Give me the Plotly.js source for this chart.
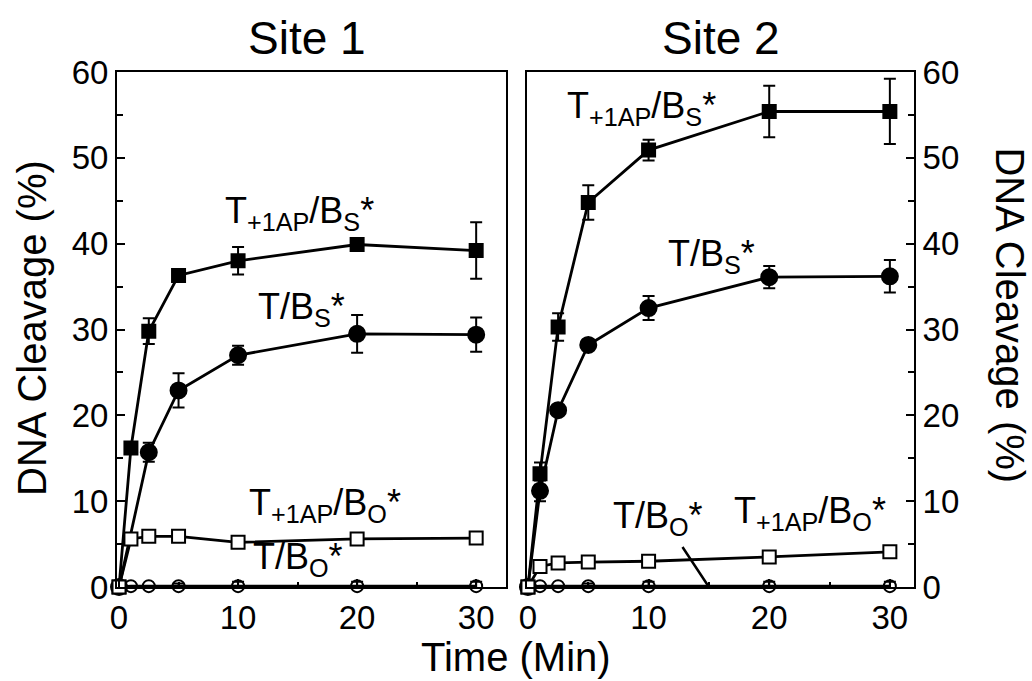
<!DOCTYPE html>
<html>
<head>
<meta charset="utf-8">
<script src="https://cdn.plot.ly/plotly-3.0.1.min.js"></script>
<style>html,body{margin:0;padding:0;background:#fff;}#chart{width:1032px;height:681px;}</style>
</head>
<body>
<div id="chart"></div>
<script>
// Time points (min)
const time = [0, 1, 2.5, 5, 10, 20, 30];
const timeNoOne = [0, 2.5, 5, 10, 20, 30];

// Site 1
const s1_T1AP_BS = [0, 16.2, 29.8, 36.3, 38.0, 39.9, 39.2];
const s1_T1AP_BS_err = [0, 0.5, 1.5, 0.5, 1.6, 0.6, 3.3];
const s1_T_BS = [0, 15.7, 22.9, 27.0, 29.5, 29.4];
const s1_T_BS_err = [0, 1.1, 2.0, 1.1, 2.2, 2.0];
const s1_T1AP_BO = [0, 5.6, 5.9, 5.9, 5.2, 5.6, 5.7];
const s1_T_BO = [0, 0.1, 0.1, 0.1, 0.1, 0.1, 0.1];
const s1_T_BO_err = [0, 0, 0, 0.3, 0.5, 0.5, 0.5];

// Site 2
const s2_T1AP_BS = [0, 13.2, 30.3, 44.8, 50.9, 55.4, 55.4];
const s2_T1AP_BS_err = [0, 1.3, 1.6, 2.0, 1.2, 3.0, 3.8];
const s2_T_BS = [0, 11.2, 20.6, 28.2, 32.5, 36.1, 36.2];
const s2_T_BS_err = [0, 1.2, 0.4, 0.4, 1.4, 1.3, 1.9];
const s2_T1AP_BO = [0, 2.4, 2.8, 2.9, 3.0, 3.5, 4.1];
const s2_T_BO = [0, 0.1, 0.1, 0.1, 0.1, 0.1, 0.1];
const s2_T_BO_err = [0, 0, 0, 0.3, 0.5, 0.5, 0.5];

const labels = {
  t1apBS: 'T<sub>+1AP</sub>/B<sub>S</sub>*',
  tBS: 'T/B<sub>S</sub>*',
  t1apBO: 'T<sub>+1AP</sub>/B<sub>O</sub>*',
  tBO: 'T/B<sub>O</sub>*'
};

const FONT = 'Liberation Sans, Arial, Helvetica, sans-serif';
const LW = 2.8;
const AFS = 36;

function tr(x, y, err, symbol, size, fill, xa, ya) {
  const t = {
    x: x, y: y, type: 'scatter', mode: 'lines+markers',
    xaxis: xa, yaxis: ya, cliponaxis: false, showlegend: false,
    line: {color: '#000', width: LW},
    marker: {symbol: symbol, size: size, color: fill, line: {color: '#000', width: 2}}
  };
  if (err) t.error_y = {type: 'data', array: err, visible: true, color: '#000', thickness: 2, width: 6};
  return t;
}

const data = [
  tr(time, s1_T_BO, s1_T_BO_err, 'circle-open', 12, '#000', 'x', 'y'),
  tr(timeNoOne, s1_T_BS, s1_T_BS_err, 'circle', 16, '#000', 'x', 'y'),
  tr(time, s1_T1AP_BS, s1_T1AP_BS_err, 'square', 13, '#000', 'x', 'y'),
  tr(time, s1_T1AP_BO, null, 'square', 13, '#fff', 'x', 'y'),
  tr(time, s2_T_BO, s2_T_BO_err, 'circle-open', 12, '#000', 'x2', 'y2'),
  tr(time, s2_T_BS, s2_T_BS_err, 'circle', 16, '#000', 'x2', 'y2'),
  tr(time, s2_T1AP_BS, s2_T1AP_BS_err, 'square', 13, '#000', 'x2', 'y2'),
  tr(time, s2_T1AP_BO, null, 'square', 13, '#fff', 'x2', 'y2')
];

const axisCommon = {
  showline: true, linecolor: '#000', linewidth: 2, mirror: true,
  ticks: 'inside', ticklen: 8, tickwidth: 2, tickcolor: '#000',
  showgrid: false, zeroline: false,
  tickfont: {family: FONT, size: 33, color: '#000'}
};

function ann(text, xref, yref, x, y, extra) {
  return Object.assign({text: text, xref: xref, yref: yref, x: x, y: y, xanchor: 'center', yanchor: 'middle',
    showarrow: false, font: {size: AFS, family: FONT, color: '#000'}}, extra || {});
}

const layout = {
  width: 1032, height: 681,
  margin: {l: 117, r: 118, t: 72, b: 94},
  paper_bgcolor: '#fff', plot_bgcolor: '#fff',
  font: {family: FONT, color: '#000'},
  showlegend: false,
  xaxis: Object.assign({}, axisCommon, {
    domain: [0, 0.488], range: [-0.17, 32.5], tickvals: [0, 10, 20, 30],
    minor: {dtick: 5, tick0: 0, ticklen: 5, tickwidth: 2, ticks: 'inside', tickcolor: '#000'}
  }),
  yaxis: Object.assign({}, axisCommon, {
    range: [0, 60], dtick: 10, anchor: 'x',
    minor: {dtick: 5, tick0: 0, ticklen: 6, tickwidth: 2, ticks: 'inside', tickcolor: '#000'}
  }),
  xaxis2: Object.assign({}, axisCommon, {
    domain: [0.5144, 1], range: [-0.08, 32], tickvals: [0, 10, 20, 30], anchor: 'y2',
    minor: {dtick: 5, tick0: 0, ticklen: 5, tickwidth: 2, ticks: 'inside', tickcolor: '#000'}
  }),
  yaxis2: Object.assign({}, axisCommon, {
    range: [0, 60], dtick: 10, anchor: 'x2', side: 'right',
    minor: {dtick: 5, tick0: 0, ticklen: 6, tickwidth: 2, ticks: 'inside', tickcolor: '#000'}
  }),
  annotations: [
    ann('Site 1', 'paper', 'paper', 0.238, 1.066, {font: {size: 46, family: FONT, color: '#000'}}),
    ann('Site 2', 'paper', 'paper', 0.758, 1.066, {font: {size: 46, family: FONT, color: '#000'}}),
    ann('DNA Cleavage (%)', 'paper', 'paper', -0.1067, 0.503, {textangle: -90, font: {size: 40, family: FONT, color: '#000'}}),
    ann('DNA Cleavage (%)', 'paper', 'paper', 1.12, 0.528, {textangle: 90, font: {size: 40, family: FONT, color: '#000'}}),
    ann('Time (Min)', 'paper', 'paper', 0.5, -0.136, {font: {size: 40, family: FONT, color: '#000'}}),
    ann(labels.t1apBS, 'x', 'y', 15.2, 43.6),
    ann(labels.tBS, 'x', 'y', 15.3, 32.4),
    ann(labels.t1apBO, 'x', 'y', 17.3, 9.6),
    ann(labels.tBO, 'x', 'y', 15.0, 3.3),
    ann(labels.t1apBS, 'x2', 'y2', 9.4, 55.8),
    ann(labels.tBS, 'x2', 'y2', 15.2, 38.6),
    ann(labels.t1apBO, 'x2', 'y2', 23.4, 8.6),
    ann(labels.tBO, 'x2', 'y2', 10.8, 8.0),
    ann('&nbsp;', 'x2', 'y2', 15, 0, {ax: 12.7, ay: 4.9, axref: 'x2', ayref: 'y2', showarrow: true, arrowhead: 0,
      arrowwidth: 2.5, arrowcolor: '#000', standoff: 0, startstandoff: 0, font: {size: 1, family: FONT, color: '#000'}})
  ]
};

Plotly.newPlot('chart', data, layout, {staticPlot: true, displayModeBar: false});
</script>
</body>
</html>
